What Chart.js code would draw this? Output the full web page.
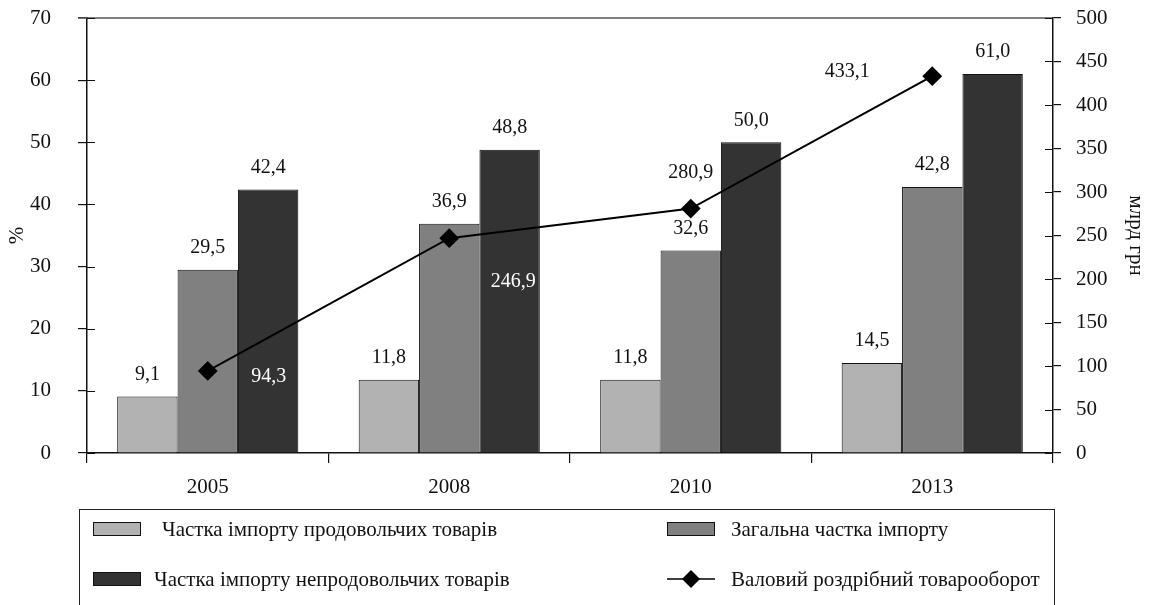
<!DOCTYPE html>
<html>
<head>
<meta charset="utf-8">
<script src="https://cdn.jsdelivr.net/npm/chart.js@4/dist/chart.umd.min.js"></script>
<style>
    body { margin: 0; background: #fff; }
    #wrap { position: relative; width: 1149px; height: 605px; overflow: hidden; }
    #legend {
        position: absolute; left: 79px; top: 509px; width: 976px; height: 140px;
        border: 1.5px solid #222; box-sizing: border-box;
        font-family: "Liberation Serif", serif; font-size: 21px; color: #111;
    }
    .item { position: absolute; height: 20px; display: flex; align-items: center; }
    .item span { position: absolute; white-space: nowrap; }
</style>
</head>
<body>
<div id="wrap">
    <canvas id="chart" width="1149" height="605"></canvas>
    <div id="legend"></div>
</div>
<script>
// Data
const years = ['2005', '2008', '2010', '2013'];
const foodImport = [9.1, 11.8, 11.8, 14.5];
const totalImport = [29.5, 36.9, 32.6, 42.8];
const nonFoodImport = [42.4, 48.8, 50.0, 61.0];
const retailTurnover = [94.3, 246.9, 280.9, 433.1];

const seriesNames = [
    'Частка імпорту продовольчих товарів',
    'Загальна частка імпорту',
    'Частка імпорту непродовольчих товарів',
    'Валовий роздрібний товарооборот'
];

// Where the line labels sit relative to their points (dx, dy, colour)
const lineLabelPlacement = [
    { dx: 61, dy: 6, color: '#fff' },
    { dx: 64, dy: 44, color: '#fff' },
    { dx: 0, dy: -36, color: '#111' },
    { dx: -85, dy: -4, color: '#111' }
];

const FONT = '"Liberation Serif", serif';

function fmt(v) {
    return v.toFixed(1).replace('.', ',');
}

// Value labels above bars and beside line points
const valueLabels = {
    id: 'valueLabels',
    afterDatasetsDraw(chart) {
        const ctx = chart.ctx;
        ctx.save();
        ctx.font = '20px ' + FONT;
        ctx.textAlign = 'center';
        ctx.textBaseline = 'middle';
        chart.data.datasets.forEach((ds, i) => {
            const meta = chart.getDatasetMeta(i);
            meta.data.forEach((el, j) => {
                const text = fmt(ds.data[j]);
                if (ds.type === 'line') {
                    const p = lineLabelPlacement[j];
                    ctx.fillStyle = p.color;
                    ctx.fillText(text, el.x + p.dx, el.y + p.dy);
                } else {
                    ctx.fillStyle = '#111';
                    ctx.fillText(text, el.x, el.y - 22);
                }
            });
        });
        ctx.restore();
    }
};

// Top frame line and the inner halves of the axis ticks
const frame = {
    id: 'frame',
    afterDraw(chart) {
        const { ctx, chartArea } = chart;
        const y = chart.scales.y;
        const y1 = chart.scales.y1;
        ctx.save();
        ctx.lineWidth = 1.5;
        ctx.strokeStyle = '#555';
        ctx.beginPath();
        ctx.moveTo(chartArea.left - 9, chartArea.top);
        ctx.lineTo(chartArea.right, chartArea.top);
        ctx.stroke();
        ctx.strokeStyle = '#111';
        ctx.lineWidth = 1.2;
        ctx.beginPath();
        y.ticks.forEach(t => {
            const py = Math.round(y.getPixelForValue(t.value)) + 0.5;
            ctx.moveTo(chartArea.left, py);
            ctx.lineTo(chartArea.left + 8, py);
        });
        y1.ticks.forEach(t => {
            const py = Math.round(y1.getPixelForValue(t.value)) + 0.5;
            ctx.moveTo(chartArea.right, py);
            ctx.lineTo(chartArea.right - 8, py);
        });
        ctx.stroke();
        ctx.restore();
    }
};

// fixed axis widths; tick padding should not push the plot area down
function fitVertical(width) {
    return function(scale) {
        scale.width = width;
        scale.paddingTop = 0;
        scale.paddingBottom = 0;
    };
}

const chart = new Chart(document.getElementById('chart'), {
    data: {
        labels: years,
        datasets: [
            {
                type: 'line',
                label: seriesNames[3],
                data: retailTurnover,
                yAxisID: 'y1',
                order: 0,
                borderColor: '#000',
                borderWidth: 2,
                pointStyle: 'rectRot',
                pointRadius: 8.5,
                pointBackgroundColor: '#000',
                pointBorderColor: '#000',
                tension: 0
            },
            {
                type: 'bar',
                label: seriesNames[0],
                data: foodImport,
                yAxisID: 'y',
                order: 1,
                backgroundColor: '#b2b2b2',
                borderColor: '#111',
                borderWidth: 1
            },
            {
                type: 'bar',
                label: seriesNames[1],
                data: totalImport,
                yAxisID: 'y',
                order: 1,
                backgroundColor: '#808080',
                borderColor: '#111',
                borderWidth: 1
            },
            {
                type: 'bar',
                label: seriesNames[2],
                data: nonFoodImport,
                yAxisID: 'y',
                order: 1,
                backgroundColor: '#333333',
                borderColor: '#111',
                borderWidth: 1
            }
        ]
    },
    options: {
        responsive: false,
        animation: false,
        devicePixelRatio: 1,
        layout: { autoPadding: false, padding: { top: 18, bottom: 0, left: 0, right: 0 } },
        datasets: { bar: { categoryPercentage: 0.75, barPercentage: 1.0 } },
        plugins: {
            legend: { display: false },
            tooltip: { enabled: false }
        },
        scales: {
            x: {
                offset: true,
                grid: { offset: true, drawOnChartArea: false, tickLength: 10, color: '#111', lineWidth: 1.2 },
                border: { color: '#111', width: 1.5 },
                ticks: { font: { family: FONT, size: 21 }, color: '#111', padding: 12 },
                afterFit(scale) { scale.height = 152; }
            },
            y: {
                position: 'left',
                min: 0,
                max: 70,
                ticks: { stepSize: 10, font: { family: FONT, size: 21 }, color: '#111', padding: 27 },
                grid: { drawOnChartArea: false, tickLength: 9, color: '#111', lineWidth: 1.2 },
                border: { color: '#111', width: 1.5 },
                title: { display: true, text: '%', font: { family: FONT, size: 21 }, color: '#111', padding: 5 },
                afterFit: fitVertical(87)
            },
            y1: {
                position: 'right',
                min: 0,
                max: 500,
                ticks: { stepSize: 50, font: { family: FONT, size: 21 }, color: '#111', padding: 15 },
                grid: { drawOnChartArea: false, tickLength: 8, color: '#111', lineWidth: 1.2 },
                border: { color: '#111', width: 1.5 },
                title: { display: true, text: 'млрд грн', font: { family: FONT, size: 21 }, color: '#111', padding: 1 },
                afterFit: fitVertical(96)
            }
        }
    },
    plugins: [valueLabels, frame]
});

// HTML legend in the framed box under the chart
const legendEl = document.getElementById('legend');
const legendSlots = [
    { idx: 1, x: 13, y: 9, tx: 69 },
    { idx: 2, x: 587, y: 9, tx: 64 },
    { idx: 3, x: 13, y: 59, tx: 61 },
    { idx: 0, x: 587, y: 59, tx: 64 }
];
legendSlots.forEach(s => {
    const ds = chart.data.datasets[s.idx];
    const item = document.createElement('div');
    item.className = 'item';
    item.style.left = s.x + 'px';
    item.style.top = s.y + 'px';
    let mark;
    if (ds.type === 'line') {
        mark = '<svg width="48" height="20" style="position:absolute;left:0;top:0">' +
            '<line x1="0" y1="10" x2="48" y2="10" stroke="#000" stroke-width="1.5"/>' +
            '<polygon points="24,1 33,10 24,19 15,10" fill="#000"/></svg>';
    } else {
        mark = '<div style="position:absolute;left:0;top:3px;width:46px;height:12px;border:1px solid #111;background:' +
            ds.backgroundColor + '"></div>';
    }
    item.innerHTML = mark + '<span style="left:' + s.tx + 'px">' + ds.label + '</span>';
    legendEl.appendChild(item);
});
</script>
</body>
</html>
